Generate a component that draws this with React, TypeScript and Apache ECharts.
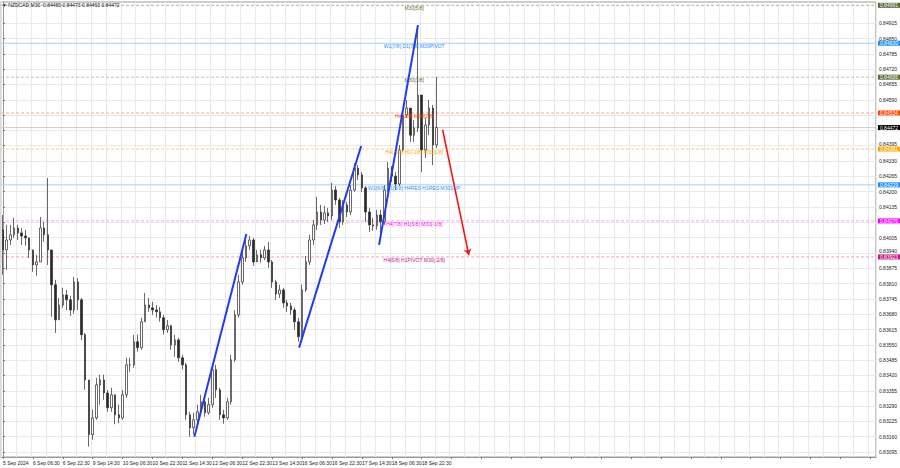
import React, { useEffect, useRef } from "react";
import * as echarts from "echarts";

// ---- data (NZDCAD, bars grouped to 2h) ----
const firstOpen = 0.84038;
const closes = [
  0.83953, 0.83995, 0.84017, 0.84046, 0.84025, 0.84012, 0.84004, 0.83953, 0.83889, 0.83902,
  0.84046, 0.84017, 0.83953, 0.83805, 0.83656, 0.83719, 0.83762, 0.83741, 0.83698, 0.83817,
  0.83741, 0.83593, 0.83401, 0.83169, 0.83240, 0.83380, 0.83401, 0.83346, 0.83283, 0.83338,
  0.83253, 0.83240, 0.83338, 0.83465, 0.83465, 0.83563, 0.83538, 0.83648, 0.83719, 0.83707,
  0.83698, 0.83690, 0.83665, 0.83614, 0.83631, 0.83550, 0.83571, 0.83495, 0.83465, 0.83253,
  0.83198, 0.83232, 0.83266, 0.83308, 0.83262, 0.83296, 0.83445, 0.83359, 0.83253, 0.83240,
  0.83308, 0.83487, 0.83677, 0.83817, 0.83919, 0.83970, 0.83995, 0.83902, 0.83932, 0.83919,
  0.83953, 0.83902, 0.83817, 0.83766, 0.83783, 0.83728, 0.83715, 0.83698, 0.83648, 0.83584,
  0.83783, 0.83902, 0.83995, 0.84059, 0.84114, 0.84080, 0.84110, 0.84097, 0.84207, 0.84165,
  0.84072, 0.84144, 0.84114, 0.84207, 0.84300, 0.84271, 0.84216, 0.84114, 0.84059, 0.84055,
  0.84101, 0.84072, 0.84207, 0.84300, 0.84266, 0.84233, 0.84377, 0.84525, 0.84555, 0.84440,
  0.84470, 0.84610, 0.84377, 0.84483, 0.84555, 0.84398, 0.84472,
];
const highs = [
  0.84101, 0.84059, 0.84059, 0.84089, 0.84059, 0.84046, 0.84038, 0.84004, 0.83953, 0.83932,
  0.84093, 0.84072, 0.84258, 0.83953, 0.83826, 0.83749, 0.83792, 0.83783, 0.83758, 0.83838,
  0.83834, 0.83749, 0.83601, 0.83401, 0.83275, 0.83410, 0.83423, 0.83423, 0.83359, 0.83368,
  0.83338, 0.83296, 0.83359, 0.83495, 0.83495, 0.83593, 0.83593, 0.83665, 0.83770, 0.83749,
  0.83733, 0.83719, 0.83711, 0.83677, 0.83656, 0.83635, 0.83593, 0.83580, 0.83508, 0.83474,
  0.83266, 0.83262, 0.83296, 0.83338, 0.83317, 0.83325, 0.83465, 0.83465, 0.83368, 0.83275,
  0.83325, 0.83508, 0.83698, 0.83847, 0.83944, 0.83995, 0.84012, 0.84004, 0.83953, 0.83953,
  0.83970, 0.83987, 0.83910, 0.83826, 0.83805, 0.83792, 0.83741, 0.83728, 0.83707, 0.83665,
  0.83805, 0.83927, 0.84017, 0.84080, 0.84178, 0.84144, 0.84140, 0.84131, 0.84237, 0.84224,
  0.84174, 0.84165, 0.84157, 0.84228, 0.84321, 0.84313, 0.84283, 0.84224, 0.84131, 0.84089,
  0.84123, 0.84123, 0.84228, 0.84326, 0.84309, 0.84283, 0.84398, 0.84546, 0.84589, 0.84555,
  0.84504, 0.84907, 0.84610, 0.84512, 0.84589, 0.84568, 0.84686,
];
const lows = [
  0.83847, 0.83868, 0.83974, 0.84004, 0.83995, 0.83974, 0.83970, 0.83919, 0.83860, 0.83843,
  0.83902, 0.83987, 0.83889, 0.83669, 0.83601, 0.83665, 0.83707, 0.83698, 0.83673, 0.83682,
  0.83698, 0.83571, 0.83359, 0.83118, 0.83147, 0.83232, 0.83296, 0.83317, 0.83266, 0.83266,
  0.83213, 0.83218, 0.83232, 0.83325, 0.83436, 0.83453, 0.83521, 0.83529, 0.83648, 0.83690,
  0.83677, 0.83665, 0.83648, 0.83593, 0.83601, 0.83529, 0.83499, 0.83478, 0.83445, 0.83232,
  0.83160, 0.83169, 0.83215, 0.83253, 0.83245, 0.83253, 0.83283, 0.83325, 0.83232, 0.83215,
  0.83232, 0.83296, 0.83478, 0.83665, 0.83805, 0.83902, 0.83953, 0.83885, 0.83902, 0.83898,
  0.83910, 0.83877, 0.83792, 0.83741, 0.83749, 0.83707, 0.83690, 0.83677, 0.83614, 0.83563,
  0.83571, 0.83775, 0.83889, 0.83974, 0.84038, 0.84059, 0.84063, 0.84072, 0.84080, 0.84144,
  0.84046, 0.84059, 0.84093, 0.84101, 0.84199, 0.84249, 0.84199, 0.84072, 0.84029, 0.84034,
  0.84038, 0.84008, 0.84059, 0.84199, 0.84241, 0.84207, 0.84224, 0.84368, 0.84512, 0.84411,
  0.84411, 0.84453, 0.84283, 0.84343, 0.84440, 0.84313, 0.84385,
];

const timeLabels = [
  "5 Sep 2024", "6 Sep 06:30", "6 Sep 22:30", "9 Sep 14:30", "10 Sep 06:30",
  "10 Sep 22:30", "11 Sep 14:30", "12 Sep 06:30", "12 Sep 22:30", "13 Sep 14:30",
  "16 Sep 06:30", "16 Sep 22:30", "17 Sep 14:30", "18 Sep 06:30", "18 Sep 22:30",
];

const priceTicks = [
  0.84915, 0.84850, 0.84785, 0.84720, 0.84655, 0.84590, 0.84525, 0.84460, 0.84395, 0.84330,
  0.84265, 0.84200, 0.84135, 0.84070, 0.84005, 0.83940, 0.83875, 0.83810, 0.83745, 0.83680,
  0.83615, 0.83550, 0.83485, 0.83420, 0.83355, 0.83290, 0.83225, 0.83160, 0.83095,
];
// tick labels hidden behind the price boxes in the reference
const hiddenTickLabels = [0.84525, 0.84460, 0.84070];
// tick labels squeezed just above a price box
const raisedTickLabels = [0.84395, 0.83940];

const levelPrices = [0.84991, 0.84830, 0.84686, 0.84534, 0.84381, 0.84229, 0.84076, 0.83923];
const levelTexts = [
  "M30[5/8]",
  "W1[7/8] D1[7/8] M30PIVOT",
  "M30[3/8]",
  "H4[-2/8] M30[2/8]",
  "H4[-1/8] H1[-2/8] M30[1/8]",
  "W1[6/8] D1[6/8] H4RES H1RES M30SUP",
  "H4[7/8] H1[6/8] M30[-1/8]",
  "H4[6/8] H1PIVOT M30[-2/8]",
];
const currentPrice = 0.84472;
const titleText = "NZDCAD,M30  0.84465 0.84473 0.84463 0.84472";

// trend lines: [startBar, startPrice, endBar, endPrice]
const trendLines = [
  [51.2, 0.8316, 65.1, 0.8402],
  [79.2, 0.83538, 95.8, 0.84394],
  [100.6, 0.83974, 111.0, 0.84907],
];
const arrowLine = [117.6, 0.84462, 124.6, 0.83931];

// ---- styles ----
const SLOTS = 234;
const LABEL_BAR = 110;
const levelTextColors = ["#6f6f30", "#1E90FF", "#6f6f30", "#FF4500", "#FFA500", "#1E90FF", "#FF00FF", "#C71585"];
const levelBoxColors = ["#556B2F", "#1E90FF", "#556B2F", "#FF4500", "#FFA500", "#1E90FF", "#FF00FF", "#C71585"];
const levelLineColors = ["#b0b08a", "#a6d0f4", "#c4bca4", "#f6a88c", "#f8cc88", "#a6d0f4", "#f2a2f2", "#ec9ccc"];
const levelLineDashed = [true, false, true, true, true, false, true, true];
const FONT = "Liberation Sans, Arial, sans-serif";

export default function App() {
  const ref = useRef<HTMLDivElement>(null);
  useEffect(() => {
    if (!ref.current) return;
    const chart = echarts.init(ref.current, null, { renderer: "svg" });
    const cats = Array.from({ length: SLOTS }, (_, i) => String(i));
    const candles = closes.map((c, i) => {
      const o = i === 0 ? firstOpen : closes[i - 1];
      const h = Math.max(highs[i], o, c);
      const l = Math.min(lows[i], o, c);
      return [o, c, l, h];
    });

    const fmt = (v: number) => v.toFixed(5);
    const xLeft = -0.5;
    const xRight = SLOTS - 0.5;

    const allLevels = [...levelPrices, currentPrice];
    const allBoxColors = [...levelBoxColors, "#000000"];
    const allLineColors = [...levelLineColors, "#cccccc"];
    const allDashed = [...levelLineDashed, false];

    const levelSeries = allLevels.map((p, i) => ({
      type: "line",
      xAxisIndex: 1,
      yAxisIndex: 0,
      silent: true,
      symbol: "none",
      z: 2,
      data: [[xLeft, p], [xRight, p]],
      lineStyle: {
        color: allLineColors[i],
        width: 1,
        type: allDashed[i] ? [3, 2] : "solid",
        opacity: 1,
      },
    }));

    chart.setOption({
      animation: false,
      backgroundColor: "#ffffff",
      textStyle: { fontFamily: FONT },
      title: {
        text: "\u25BC " + titleText,
        left: 2,
        top: 2,
        padding: 0,
        textStyle: { fontSize: 5, fontWeight: "normal", color: "#222", fontFamily: FONT },
      },
      grid: {
        left: 0,
        right: 23,
        top: 2,
        bottom: 11,
        show: true,
        borderColor: "#9a9a9a",
        borderWidth: 1,
        backgroundColor: "#fff",
      },
      xAxis: [
        {
          type: "category",
          data: cats,
          boundaryGap: true,
          axisLine: { show: true, lineStyle: { color: "#9a9a9a" } },
          axisTick: { show: true, interval: 7, alignWithLabel: true, length: 2, lineStyle: { color: "#777" } },
          axisLabel: {
            interval: 7,
            align: "left",
            margin: 3,
            fontSize: 5,
            color: "#222",
            fontFamily: FONT,
            formatter: (_v: string, idx: number) => timeLabels[idx / 8] ?? "",
          },
          splitLine: { show: true, interval: 3, lineStyle: { color: "#e9e9e9", width: 1 } },
        },
        {
          type: "value",
          min: xLeft,
          max: xRight,
          show: false,
          position: "top",
          splitLine: { show: false },
        },
      ],
      yAxis: [
        {
          type: "value",
          position: "right",
          min: 0.83074,
          max: 0.85005,
          axisLine: { show: true, lineStyle: { color: "#9a9a9a" } },
          axisTick: { show: true, length: 2, customValues: priceTicks, lineStyle: { color: "#777" } },
          axisLabel: {
            customValues: priceTicks.filter((t) => !hiddenTickLabels.includes(t)),
            fontSize: 5,
            color: "#222",
            margin: 3,
            fontFamily: FONT,
            formatter: (v: number) => {
              const isRaised = raisedTickLabels.some((r) => Math.abs(r - v) < 1e-7);
              return isRaised ? "{up|" + fmt(v) + "}" : fmt(v);
            },
            rich: {
              up: { fontSize: 5, color: "#222", fontFamily: FONT, padding: [0, 0, 4, 0] },
            },
          },
          splitLine: { show: true, lineStyle: { color: "#e9e9e9", width: 1 } },
        },
      ],
      series: [
        ...levelSeries,
        {
          type: "candlestick",
          xAxisIndex: 0,
          yAxisIndex: 0,
          data: candles,
          barWidth: 2,
          z: 3,
          itemStyle: {
            color: "#ffffff",
            color0: "#2a2a2a",
            borderColor: "#2a2a2a",
            borderColor0: "#2a2a2a",
            borderWidth: 0.7,
          },
        },
        {
          type: "scatter",
          xAxisIndex: 1,
          yAxisIndex: 0,
          symbolSize: 0,
          silent: true,
          z: 5,
          itemStyle: { opacity: 1 },
          data: levelPrices.map((p, i) => ({
            value: [LABEL_BAR, p],
            label: {
              show: true,
              position: "inside",
              offset: [0, 3],
              formatter: levelTexts[i],
              color: levelTextColors[i],
              opacity: 1,
              fontSize: 5,
              fontFamily: FONT,
            },
          })),
        },
        {
          type: "scatter",
          xAxisIndex: 1,
          yAxisIndex: 0,
          symbolSize: 0,
          silent: true,
          clip: false,
          z: 8,
          itemStyle: { opacity: 1 },
          data: allLevels.map((p, i) => ({
            value: [xRight, p],
            label: {
              show: true,
              position: "right",
              distance: 2,
              formatter: fmt(p),
              backgroundColor: allBoxColors[i],
              color: "#ffffff",
              opacity: 1,
              fontSize: 5,
              lineHeight: 5,
              fontFamily: FONT,
              padding: [0, 2, 0, 2],
            },
          })),
        },
        {
          type: "lines",
          coordinateSystem: "cartesian2d",
          xAxisIndex: 1,
          yAxisIndex: 0,
          silent: true,
          z: 6,
          lineStyle: { color: "#1f3cf0", width: 2, opacity: 1 },
          data: trendLines.map((t) => ({ coords: [[t[0], t[1]], [t[2], t[3]]] })),
        },
        {
          type: "lines",
          coordinateSystem: "cartesian2d",
          xAxisIndex: 1,
          yAxisIndex: 0,
          silent: true,
          z: 6,
          symbol: ["none", "arrow"],
          symbolSize: 6,
          lineStyle: { color: "#ff1010", width: 1.6, opacity: 1 },
          data: [{ coords: [[arrowLine[0], arrowLine[1]], [arrowLine[2], arrowLine[3]]] }],
        },
      ],
    });
    return () => chart.dispose();
  }, []);
  return (
    <div
      ref={ref}
      style={{ position: "fixed", left: 0, top: 0, width: 900, height: 468, background: "#fff" }}
    />
  );
}
